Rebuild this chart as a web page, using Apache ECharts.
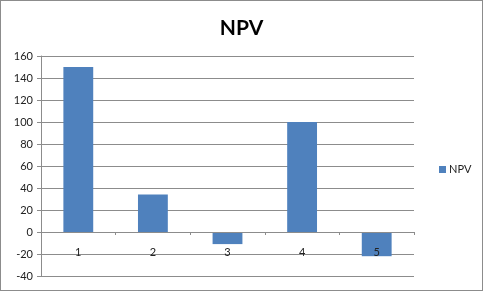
<!DOCTYPE html>
<html>
<head>
<meta charset="utf-8">
<script src="https://cdn.jsdelivr.net/npm/echarts@6/dist/echarts.min.js"></script>
<style>
html, body { margin: 0; padding: 0; background: #fff; }
#chartContainer { width: 481px; height: 289px; border: 1px solid #8c8c8c; }
</style>
</head>
<body>
<div id="chartContainer"></div>
<script>
var categoryArray = ['1', '2', '3', '4', '5'];
var npvArray = [150, 34, -11, 100, -22];

var npvChart = {
	/**
	 * 显示图表
	 */
	showChart : function (categoryArray, npvArray) {
		var myChart = echarts.init(document.getElementById('chartContainer'));
		var option = {
			animation: false,
			textStyle: { fontFamily: 'Lato' },
			title: {
				text: 'NPV',
				left: 'center',
				top: 12,
				textStyle: { fontFamily: 'Lato', fontSize: 21, fontWeight: 'bold', color: '#000' }
			},
			legend: {
				data: ['NPV'],
				orient: 'vertical',
				left: 433,
				top: 158,
				itemWidth: 7,
				itemHeight: 7,
				icon: 'rect',
				textStyle: { fontFamily: 'Lato', fontSize: 11, color: '#222', padding: [0, 0, 0, -2] }
			},
			grid: {
				left: 40,
				right: 68,
				top: 55,
				bottom: 14
			},
			xAxis: [
				{
					type: 'category',
					data: categoryArray,
					z: 5,
					axisLine: { onZero: true, lineStyle: { color: '#8c8c8c' } },
					axisTick: { show: true, length: 3, inside: false, lineStyle: { color: '#8c8c8c' } },
					// 标签放在零线下方
					axisLabel: { margin: -29, fontSize: 11, color: '#222' },
					splitLine: { show: false }
				}
			],
			yAxis: [
				{
					type: 'value',
					min: -40,
					max: 160,
					interval: 20,
					axisLine: { show: true, lineStyle: { color: '#8c8c8c' } },
					axisTick: { show: true, length: 4, lineStyle: { color: '#8c8c8c' } },
					axisLabel: { margin: 8, fontSize: 11, color: '#222' },
					splitLine: { show: true, lineStyle: { color: '#8c8c8c' } }
				}
			],
			series: [
				{
					name: 'NPV',
					type: 'bar',
					data: npvArray,
					barWidth: '40%',
					itemStyle: { color: '#4f81bd' }
				}
			]
		};
		// 显示图表。
		myChart.setOption(option);
	}
};

npvChart.showChart(categoryArray, npvArray);
</script>
</body>
</html>
